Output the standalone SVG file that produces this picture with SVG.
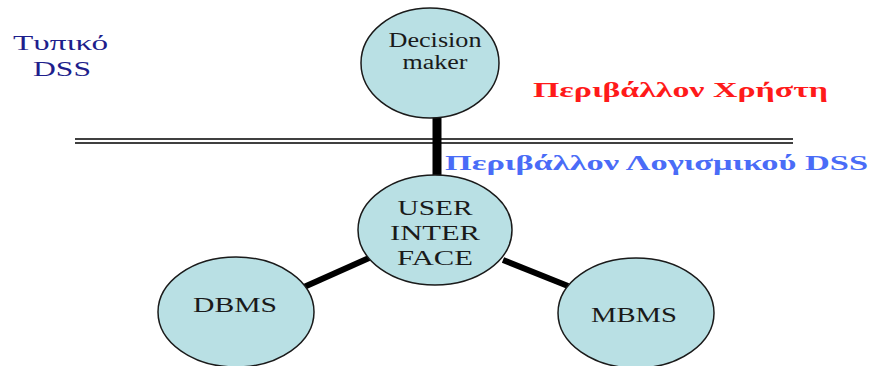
<svg xmlns="http://www.w3.org/2000/svg" width="873" height="366" viewBox="0 0 873 366">
  <style>
    .node { fill: #b9e0e4; stroke: #1a1a1a; stroke-width: 1.5; }
    .lbl { font-family: "Liberation Serif", "DejaVu Serif", serif; fill: #1a1a1a; text-anchor: middle; }
    .edge { stroke: #000; stroke-linecap: butt; }
    .env { font-family: "Liberation Serif", "DejaVu Serif", serif; font-weight: bold; font-size: 22px; }
  </style>
  <rect width="873" height="366" fill="#fff"/>

  <!-- title -->
  <g id="title" font-family="Liberation Serif, DejaVu Serif, serif" font-size="21" fill="#1e1e8c">
    <text x="13" y="50" textLength="95" lengthAdjust="spacingAndGlyphs">Τυπικό</text>
    <text x="33" y="76" textLength="58" lengthAdjust="spacingAndGlyphs">DSS</text>
  </g>

  <!-- boundary between user and software environment -->
  <g id="boundary" stroke="#000" stroke-width="1.3">
    <line x1="75" y1="139" x2="793" y2="139"/>
    <line x1="75" y1="143" x2="793" y2="143"/>
  </g>

  <g id="env-labels" class="env">
    <text x="533" y="97" fill="#ff1a1a" textLength="295" lengthAdjust="spacingAndGlyphs">Περιβάλλον Χρήστη</text>
    <text x="445" y="170" fill="#4a6cf7" textLength="423" lengthAdjust="spacingAndGlyphs">Περιβάλλον Λογισμικού DSS</text>
  </g>

  <!-- connectors -->
  <g id="connectors" class="edge">
    <line x1="437" y1="116" x2="437" y2="177" stroke-width="9"/>
    <line x1="304" y1="287" x2="369" y2="258" stroke-width="6"/>
    <line x1="503" y1="260" x2="568" y2="286" stroke-width="6"/>
  </g>

  <g id="decision-maker">
    <ellipse class="node" cx="430" cy="63" rx="69" ry="55"/>
    <text class="lbl" x="435" y="47" font-size="20" textLength="93" lengthAdjust="spacingAndGlyphs">Decision</text>
    <text class="lbl" x="435" y="69" font-size="20" textLength="65" lengthAdjust="spacingAndGlyphs">maker</text>
  </g>

  <g id="user-interface">
    <ellipse class="node" cx="435" cy="230" rx="77" ry="55"/>
    <text class="lbl" x="435" y="215" font-size="21" textLength="75" lengthAdjust="spacingAndGlyphs">USER</text>
    <text class="lbl" x="435" y="240" font-size="21" textLength="90" lengthAdjust="spacingAndGlyphs">INTER</text>
    <text class="lbl" x="435" y="265" font-size="21" textLength="76" lengthAdjust="spacingAndGlyphs">FACE</text>
  </g>

  <g id="dbms">
    <ellipse class="node" cx="236" cy="312" rx="78" ry="55"/>
    <text class="lbl" x="235" y="312" font-size="21" textLength="84" lengthAdjust="spacingAndGlyphs">DBMS</text>
  </g>

  <g id="mbms">
    <ellipse class="node" cx="636" cy="313" rx="78" ry="55"/>
    <text class="lbl" x="634" y="322" font-size="21" textLength="86" lengthAdjust="spacingAndGlyphs">MBMS</text>
  </g>
</svg>
